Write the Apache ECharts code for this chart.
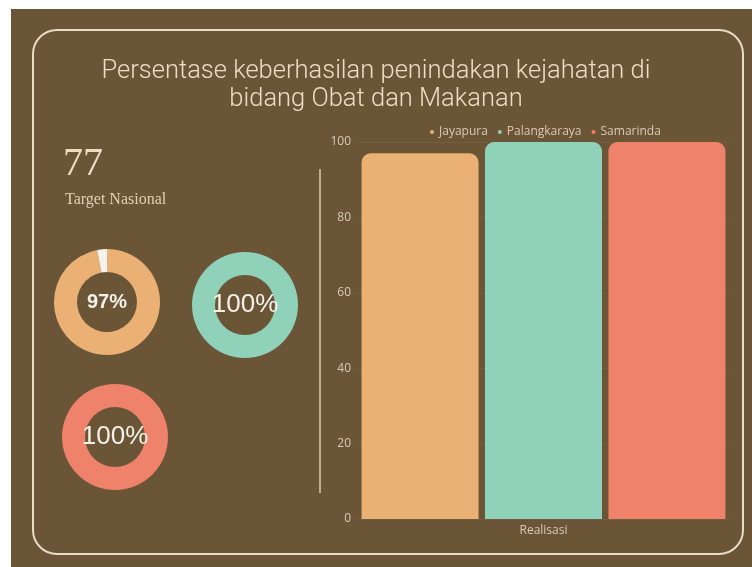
<!DOCTYPE html>
<html>
<head>
<meta charset="utf-8">
<script src="https://cdn.jsdelivr.net/npm/echarts@6/dist/echarts.min.js"></script>
<style>
html,body{margin:0;padding:0;background:#ffffff;}
#chart{width:752px;height:567px;}
</style>
</head>
<body>
<div id="chart"></div>
<script>
// ---- data ----
var titleLines = ['Persentase keberhasilan penindakan kejahatan di', 'bidang Obat dan Makanan'];
var targetNasional = 77;
var targetLabel = 'Target Nasional';
var cities = ['Jayapura', 'Palangkaraya', 'Samarinda'];
var realisasi = [97, 100, 100];
var categories = ['Realisasi'];
var yTicks = [0, 20, 40, 60, 80, 100];

// ---- style ----
var bg = '#6a5537';
var colors = ['#ebb073', '#8fd1b9', '#ee826a'];
var beige = '#efdcc2';
var labelColor = '#d9cab4';

var chart = echarts.init(document.getElementById('chart'), null, {renderer: 'canvas'});

var donutCenters = [[107, 302], [245, 305], [115, 437]];
var donutLabelStyle = [
  {fontSize: 20, fontWeight: 'bold', fontFamily: 'Liberation Sans'},
  {fontSize: 26, fontWeight: 'normal', fontFamily: 'Liberation Sans'},
  {fontSize: 26, fontWeight: 'normal', fontFamily: 'Liberation Sans'}
];

var series = [];
cities.forEach(function (c, i) {
  series.push({
    name: c,
    type: 'bar',
    xAxisIndex: 0, yAxisIndex: 0,
    data: [realisasi[i]],
    barWidth: 117,
    barGap: '5.5%',
    itemStyle: {color: colors[i], borderRadius: [9, 9, 0, 0]},
    emphasis: {disabled: true}
  });
});
cities.forEach(function (c, i) {
  series.push({
    type: 'pie',
    silent: true,
    center: donutCenters[i],
    radius: [30, 53],
    startAngle: 90,
    clockwise: true,
    avoidLabelOverlap: false,
    labelLine: {show: false},
    data: [
      {value: realisasi[i], itemStyle: {color: colors[i]},
        label: {show: true, position: 'center', formatter: realisasi[i] + '%',
          color: '#f6f1e9', fontSize: donutLabelStyle[i].fontSize,
          fontWeight: donutLabelStyle[i].fontWeight, fontFamily: donutLabelStyle[i].fontFamily}},
      {value: 100 - realisasi[i], itemStyle: {color: '#f7f3ec'}, label: {show: false}}
    ]
  });
});

chart.setOption({
  backgroundColor: 'transparent',
  animation: false,
  graphic: [
    {type: 'rect', z: -10, shape: {x: 11, y: 9, width: 741, height: 558}, style: {fill: bg}},
    {type: 'rect', z: -5, shape: {x: 33, y: 30, width: 710, height: 524, r: 24},
      style: {fill: 'none', stroke: '#e9dcc6', lineWidth: 2}},
    {type: 'line', shape: {x1: 320, y1: 169, x2: 320, y2: 493},
      style: {stroke: '#d8c8ae', lineWidth: 1.5}},
    {type: 'text', left: 'center', top: 59, style: {text: titleLines[0], fill: beige,
      font: '300 25.5px Roboto', textAlign: 'center'}},
    {type: 'text', left: 'center', top: 87, style: {text: titleLines[1], fill: beige,
      font: '300 25.5px Roboto', textAlign: 'center'}},
    {type: 'text', left: 63, top: 144, style: {text: String(targetNasional), fill: beige,
      font: '300 40px "Liberation Serif"'}},
    {type: 'text', left: 65, top: 192, style: {text: targetLabel, fill: '#e3d0b4',
      font: '16px "Liberation Serif"'}}
  ],
  legend: {
    data: cities,
    left: 425, top: 121,
    icon: 'circle', itemWidth: 4, itemHeight: 4, itemGap: 10,
    textStyle: {color: labelColor, fontSize: 12, fontFamily: 'Open Sans'}
  },
  grid: {left: 356, right: 21, top: 142, bottom: 48},
  xAxis: {
    type: 'category', data: categories,
    axisLine: {show: false}, axisTick: {show: false},
    axisLabel: {color: labelColor, fontSize: 12, fontFamily: 'Open Sans', margin: 6}
  },
  yAxis: {
    type: 'value', min: yTicks[0], max: yTicks[yTicks.length - 1], interval: 20,
    axisLine: {show: false}, axisTick: {show: false},
    axisLabel: {color: labelColor, fontSize: 12, fontFamily: 'Open Sans', margin: 5},
    splitLine: {lineStyle: {color: 'rgba(255,255,255,0.06)'}}
  },
  series: series
});
</script>
</body>
</html>
